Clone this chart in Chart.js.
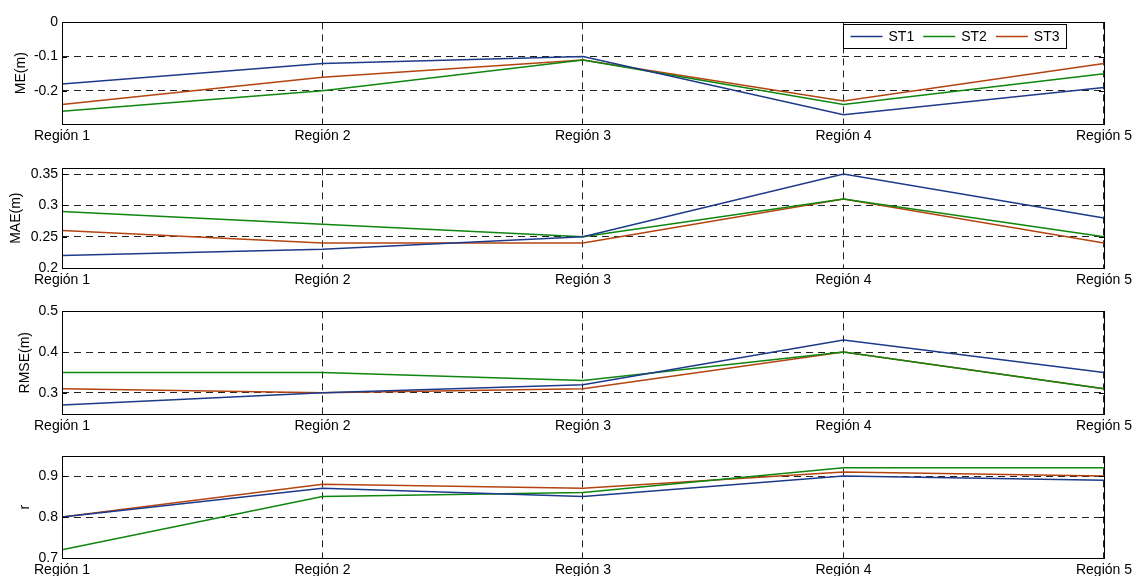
<!DOCTYPE html>
<html>
<head>
<meta charset="utf-8">
<script src="https://cdn.jsdelivr.net/npm/chart.js@4"></script>
<style>
  body { margin: 0; background: #fff; width: 1136px; height: 576px; overflow: hidden; position: relative; }
  .panel { position: absolute; left: 0; width: 1136px; }
</style>
</head>
<body>
<div class="panel" id="p1" style="top:10px;height:134px"><canvas id="meChart"></canvas></div>
<div class="panel" id="p2" style="top:156px;height:132px"><canvas id="maeChart"></canvas></div>
<div class="panel" id="p3" style="top:299px;height:135px"><canvas id="rmseChart"></canvas></div>
<div class="panel" id="p4" style="top:444px;height:134px"><canvas id="rChart"></canvas></div>
<script>
const regions = ['Región 1', 'Región 2', 'Región 3', 'Región 4', 'Región 5'];
const seriesNames = ['ST1', 'ST2', 'ST3'];
const seriesColors = ['#1d3a8a', '#0f860f', '#b4440f'];

// ME(m)
const me_st1 = [-0.18, -0.12, -0.10, -0.27, -0.19];
const me_st2 = [-0.26, -0.20, -0.11, -0.24, -0.15];
const me_st3 = [-0.24, -0.16, -0.11, -0.23, -0.12];
const me_ticks = [-0.2, -0.1, 0];

// MAE(m)
const mae_st1 = [0.22, 0.23, 0.25, 0.35, 0.28];
const mae_st2 = [0.29, 0.27, 0.25, 0.31, 0.25];
const mae_st3 = [0.26, 0.24, 0.24, 0.31, 0.24];
const mae_ticks = [0.2, 0.25, 0.3, 0.35];

// RMSE(m)
const rmse_st1 = [0.27, 0.30, 0.32, 0.43, 0.35];
const rmse_st2 = [0.35, 0.35, 0.33, 0.40, 0.31];
const rmse_st3 = [0.31, 0.30, 0.31, 0.40, 0.31];
const rmse_ticks = [0.3, 0.4, 0.5];

// r
const r_st1 = [0.80, 0.87, 0.85, 0.90, 0.89];
const r_st2 = [0.72, 0.85, 0.86, 0.92, 0.92];
const r_st3 = [0.80, 0.88, 0.87, 0.91, 0.90];
const r_ticks = [0.7, 0.8, 0.9];

const FONT = 'Arial, "Liberation Sans", Helvetica, sans-serif';

// solid box round the plot area, with small inner ticks like the original
const framePlugin = {
	id: 'frame',
	afterDatasetsDraw(chart) {
		const {ctx, chartArea: a, scales} = chart;
		ctx.save();
		ctx.strokeStyle = '#000';
		ctx.lineWidth = 1;
		ctx.setLineDash([]);
		ctx.beginPath();
		scales.y.ticks.forEach(t => {
			const y = Math.round(scales.y.getPixelForValue(t.value)) + 0.5;
			ctx.moveTo(a.left, y); ctx.lineTo(a.left + 5, y);
			ctx.moveTo(a.right, y); ctx.lineTo(a.right - 5, y);
		});
		ctx.stroke();
		ctx.strokeRect(Math.round(a.left) + 0.5, Math.round(a.top) + 0.5,
			Math.round(a.right - a.left), Math.round(a.bottom - a.top));
		ctx.restore();
	}
};

// legend drawn inside the first panel, top right
const boxLegend = {
	id: 'boxLegend',
	afterDraw(chart, args, opts) {
		if (!opts.show) return;
		const {ctx, chartArea: a} = chart;
		ctx.save();
		ctx.font = '14px ' + FONT;
		const lineLen = 32, gap = 6, itemGap = 9, padX = 7, h = 24;
		let w = padX;
		chart.data.datasets.forEach(ds => {
			w += lineLen + gap + ctx.measureText(ds.label).width + itemGap;
		});
		w = w - itemGap + padX;
		const x0 = Math.round(a.right - 38 - w) + 0.5;
		const y0 = Math.round(a.top + 2) + 0.5;
		ctx.fillStyle = '#fff';
		ctx.fillRect(x0, y0, w, h);
		ctx.strokeStyle = '#000';
		ctx.lineWidth = 1;
		ctx.strokeRect(x0, y0, w, h);
		let x = x0 + padX;
		const cy = y0 + h / 2;
		ctx.textBaseline = 'middle';
		chart.data.datasets.forEach(ds => {
			ctx.strokeStyle = ds.borderColor;
			ctx.lineWidth = 1.5;
			ctx.beginPath();
			ctx.moveTo(x, cy); ctx.lineTo(x + lineLen, cy);
			ctx.stroke();
			x += lineLen + gap;
			ctx.fillStyle = '#000';
			ctx.fillText(ds.label, x, cy + 1);
			x += ctx.measureText(ds.label).width + itemGap;
		});
		ctx.restore();
	}
};

function fmt(v) {
	return String(Number(v.toFixed(2)));
}

function makePanel(id, title, s1, s2, s3, ticks, min, max, titlePad, showLegend) {
	const data = [s1, s2, s3];
	return new Chart(document.getElementById(id), {
		type: 'line',
		data: {
			labels: regions,
			datasets: seriesNames.map((n, i) => ({
				label: n,
				data: data[i],
				borderColor: seriesColors[i],
				backgroundColor: seriesColors[i],
				borderWidth: 1.5,
				pointRadius: 0,
				tension: 0,
				fill: false
			}))
		},
		options: {
			responsive: true,
			maintainAspectRatio: false,
			animation: false,
			events: [],
			layout: {padding: {top: 10, right: 31, left: 0, bottom: 0}},
			plugins: {
				legend: {display: false},
				tooltip: {enabled: false},
				boxLegend: {show: showLegend}
			},
			scales: {
				x: {
					offset: false,
					afterFit(scale) { scale.height = 20; },
					grid: {color: '#222', lineWidth: 1, drawTicks: false},
					border: {display: false, dash: [7, 5]},
					ticks: {
						autoSkip: false, maxRotation: 0, padding: 4,
						color: '#000', font: {family: FONT, size: 14}
					}
				},
				y: {
					min: min,
					max: max,
					afterFit(scale) { scale.width = 62; },
					afterBuildTicks(scale) { scale.ticks = ticks.map(v => ({value: v})); },
					grid: {color: '#222', lineWidth: 1, drawTicks: false},
					border: {display: false, dash: [7, 5]},
					ticks: {
						padding: 4, color: '#000',
						font: {family: FONT, size: 14},
						callback: v => fmt(v)
					},
					title: {
						display: true, text: title, color: '#000',
						font: {family: FONT, size: 14},
						padding: {top: titlePad, bottom: 0}
					}
				}
			}
		},
		plugins: [framePlugin, boxLegend]
	});
}

makePanel('meChart', 'ME(m)', me_st1, me_st2, me_st3, me_ticks, -0.297, 0, 13, true);
makePanel('maeChart', 'MAE(m)', mae_st1, mae_st2, mae_st3, mae_ticks, 0.2, 0.359, 8, false);
makePanel('rmseChart', 'RMSE(m)', rmse_st1, rmse_st2, rmse_st3, rmse_ticks, 0.248, 0.5, 17, false);
makePanel('rChart', 'r', r_st1, r_st2, r_st3, r_ticks, 0.7, 0.948, 17, false);
</script>
</body>
</html>
